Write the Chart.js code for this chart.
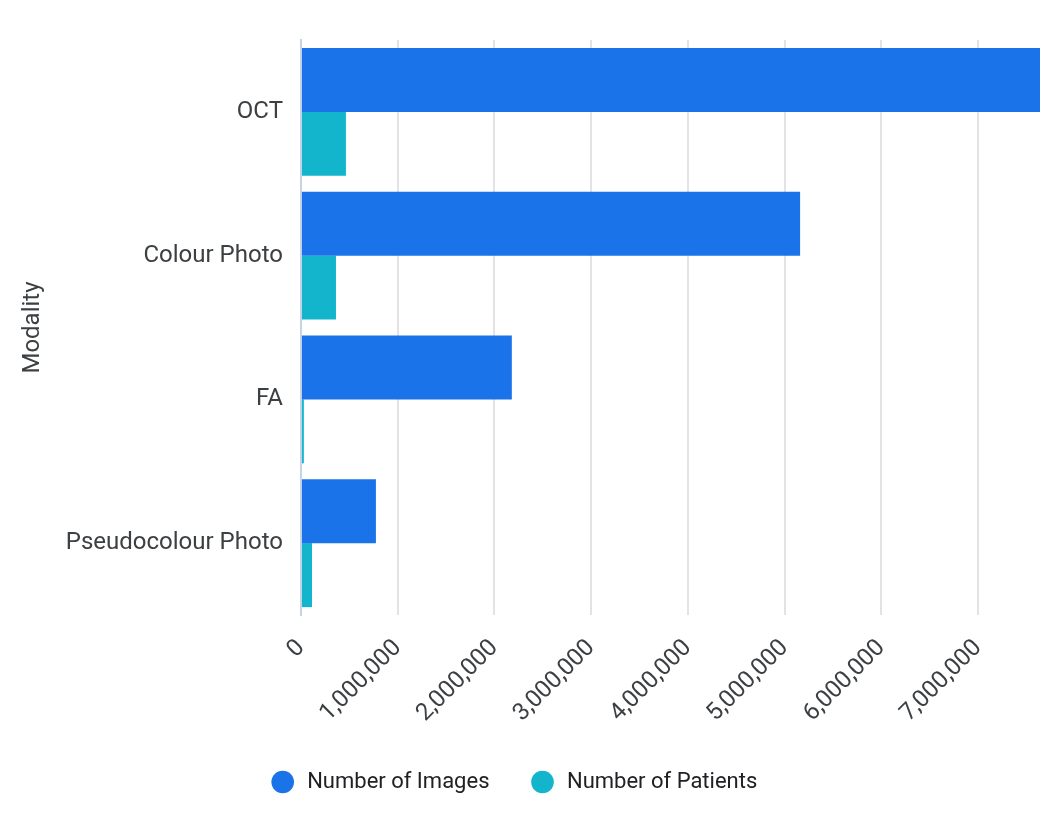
<!DOCTYPE html>
<html>
<head>
<meta charset="utf-8">
<script src="https://cdn.jsdelivr.net/npm/chart.js@4/dist/chart.umd.min.js"></script>
<style>
  html, body { margin: 0; padding: 0; background: #ffffff; }
  #wrap { width: 1059px; height: 827px; position: relative; }
</style>
</head>
<body>
<div id="wrap"><canvas id="c"></canvas></div>
<script>
const categories = ['OCT', 'Colour Photo', 'FA', 'Pseudocolour Photo'];
const seriesNames = ['Number of Images', 'Number of Patients'];
const imagesData = [7640000, 5160000, 2180000, 775000];
const patientsData = [465000, 362000, 30000, 114000];
const xTickValues = [0, 1000000, 2000000, 3000000, 4000000, 5000000, 6000000, 7000000];
const axisTitle = 'Modality';

const textColor = '#3c4043';
const fontFamily = 'Roboto, "Noto Sans", sans-serif';

Chart.defaults.font.family = fontFamily;
Chart.defaults.font.size = 22;
Chart.defaults.color = textColor;

// nudge the bottom legend slightly left, as in the reference
const legendShift = {
  id: 'legendShift',
  afterLayout(chart) {
    if (chart.legend) { chart.legend.left -= 11; chart.legend.right -= 11; }
  }
};

new Chart(document.getElementById('c'), {
  type: 'bar',
  data: {
    labels: categories,
    datasets: [
      { label: ' ' + seriesNames[0], data: imagesData, backgroundColor: '#1a73e8', categoryPercentage: 0.89, barPercentage: 1.0 },
      { label: ' ' + seriesNames[1], data: patientsData, backgroundColor: '#12b5cb', categoryPercentage: 0.89, barPercentage: 1.0 }
    ]
  },
  plugins: [legendShift],
  options: {
    indexAxis: 'y',
    responsive: true,
    maintainAspectRatio: false,
    animation: false,
    layout: { padding: { top: 40, right: 19, left: 14, bottom: 24 } },
    plugins: {
      legend: {
        position: 'bottom',
        labels: {
          usePointStyle: true,
          pointStyle: 'circle',
          boxWidth: 16,
          boxHeight: 16,
          padding: 45,
          color: '#202124',
          font: { size: 22 }
        }
      },
      tooltip: { enabled: false }
    },
    scales: {
      x: {
        min: 0,
        max: Math.max(...imagesData),
        afterBuildTicks: (scale) => { scale.ticks = xTickValues.map(v => ({ value: v })); },
        afterFit: (scale) => { scale.height = 111; },
        grid: { color: '#e3e3e3', lineWidth: 2, drawTicks: false },
        border: { display: false },
        ticks: {
          minRotation: 45,
          maxRotation: 45,
          padding: 19,
          color: textColor,
          font: { size: 24 },
          callback: (v) => Number(v).toLocaleString('en-US')
        }
      },
      y: {
        grid: { display: false, drawTicks: false },
        border: { display: true, color: '#c8d3e8', width: 2 },
        ticks: { padding: 18, color: textColor, font: { size: 24 } },
        title: { display: true, text: axisTitle, color: textColor, font: { size: 24 }, padding: { top: 5, bottom: 0 } }
      }
    }
  }
});
</script>
</body>
</html>
